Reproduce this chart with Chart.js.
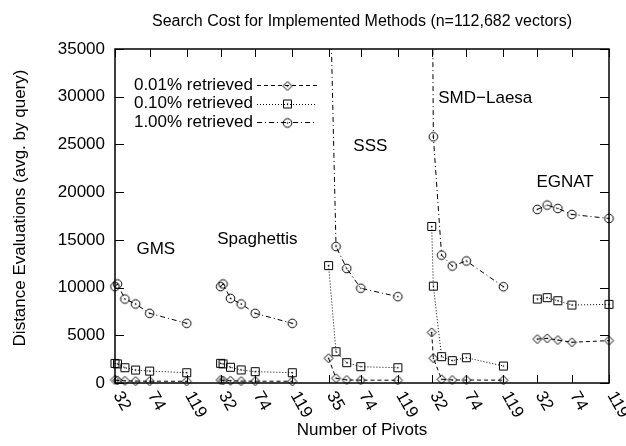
<!DOCTYPE html>
<html>
<head>
<meta charset="utf-8">
<script src="https://cdn.jsdelivr.net/npm/chart.js@4/dist/chart.umd.min.js"></script>
<style>
html,body{margin:0;padding:0;background:#fff;}
#wrap{width:626px;height:446px;}
</style>
</head>
<body>
<div id="wrap"><canvas id="c" width="626" height="446"></canvas></div>
<script>
// ---- data ----
const groups = ['GMS', 'Spaghettis', 'SSS', 'SMD\u2212Laesa', 'EGNAT'];
const seriesNames = ['0.01% retrieved', '0.10% retrieved', '1.00% retrieved'];
const pivots = [
  [32, 35, 44, 57, 74, 119],
  [32, 35, 44, 57, 74, 119],
  [35, 44, 57, 74, 119],
  [32, 34, 44, 57, 74, 119],
  [32, 44, 57, 74, 119]
];
const retrieved001 = [
  [320, 280, 230, 200, 190, 180],
  [320, 280, 230, 200, 190, 180],
  [2600, 500, 320, 300, 290],
  [5300, 2600, 390, 320, 310, 300],
  [4600, 4680, 4500, 4270, 4440]
];
const retrieved010 = [
  [2050, 2000, 1600, 1360, 1250, 1080],
  [2060, 2000, 1650, 1370, 1190, 1080],
  [12300, 3280, 2130, 1710, 1600],
  [16400, 10150, 2760, 2340, 2650, 1780],
  [8800, 8940, 8620, 8170, 8240]
];
const retrieved100 = [
  [10100, 10380, 8800, 8280, 7300, 6250],
  [10100, 10380, 8870, 8280, 7300, 6250],
  [48000, 14300, 12000, 9930, 9050],
  [55000, 25800, 13400, 12260, 12790, 10090],
  [18190, 18640, 18290, 17660, 17240]
];
const tickPivots = [
  [32, 74, 119],
  [32, 74, 119],
  [35, 74, 119],
  [32, 74, 119],
  [32, 74, 119]
];
const yMin = 0, yMax = 35000, yStep = 5000;
const groupSpan = 128;
// group caption anchors: [pivot within group, value]
const groupLabelAt = [[58, 14000], [28, 15100], [65, 24800], [40, 29800], [31, 21000]];

// ---- helpers ----
function buildSeries(values) {
  const pts = [];
  groups.forEach((g, gi) => {
    pivots[gi].forEach((p, i) => pts.push({x: gi * groupSpan + p, y: values[gi][i]}));
    if (gi < groups.length - 1) pts.push({x: gi * groupSpan + 124, y: null});
  });
  return pts;
}
function makeMarker(kind) {
  const c = document.createElement('canvas');
  c.width = 13; c.height = 13;
  const g = c.getContext('2d');
  g.strokeStyle = '#000'; g.fillStyle = '#000'; g.lineWidth = 1;
  const m = 6.5;
  g.beginPath();
  if (kind === 'diamond') {
    g.moveTo(m, m - 4.5); g.lineTo(m + 4.5, m); g.lineTo(m, m + 4.5); g.lineTo(m - 4.5, m); g.closePath();
  } else if (kind === 'square') {
    g.rect(m - 4, m - 4, 8, 8);
  } else {
    g.arc(m, m, 4.3, 0, Math.PI * 2);
  }
  g.stroke();
  g.fillRect(m - 0.7, m - 0.7, 1.4, 1.4);
  return c;
}
const markers = [makeMarker('diamond'), makeMarker('square'), makeMarker('circle')];
const dashes = [[4, 3], [1, 2], [5, 3, 1, 3]];
const FONT = '"Liberation Sans", Arial, Helvetica, sans-serif';

const xTickValues = [];
const xTickLabels = [];
tickPivots.forEach((arr, gi) => arr.forEach(p => { xTickValues.push(gi * groupSpan + p); xTickLabels.push(String(p)); }));

const gnuplotLook = {
  id: 'gnuplotLook',
  afterDraw(chart) {
    const {ctx, chartArea: a, scales} = chart;
    const xs = scales.x, ys = scales.y;
    ctx.save();
    ctx.strokeStyle = '#000';
    ctx.fillStyle = '#000';
    ctx.setLineDash([]);
    // inward mirrored ticks
    ctx.lineWidth = 1;
    ctx.beginPath();
    ys.ticks.forEach(t => {
      const py = Math.round(ys.getPixelForValue(t.value)) + 0.5;
      ctx.moveTo(a.left, py); ctx.lineTo(a.left + 9, py);
      ctx.moveTo(a.right, py); ctx.lineTo(a.right - 9, py);
    });
    xTickValues.forEach(v => {
      const px = Math.round(xs.getPixelForValue(v)) + 0.5;
      ctx.moveTo(px, a.bottom); ctx.lineTo(px, a.bottom - 8);
      ctx.moveTo(px, a.top); ctx.lineTo(px, a.top + 8);
    });
    ctx.stroke();
    // frame
    ctx.lineWidth = 1.5;
    ctx.strokeRect(a.left, a.top, a.right - a.left, a.bottom - a.top);

    // rotated x tick labels
    ctx.font = '17px ' + FONT;
    ctx.textAlign = 'left';
    ctx.textBaseline = 'middle';
    xTickValues.forEach((v, i) => {
      const px = xs.getPixelForValue(v);
      ctx.save();
      ctx.translate(px + 2, a.bottom + 10);
      ctx.rotate(Math.PI / 3);
      ctx.fillText(xTickLabels[i], 0, 0);
      ctx.restore();
    });

    // title
    ctx.textAlign = 'center';
    ctx.textBaseline = 'middle';
    ctx.font = '16px ' + FONT;
    ctx.fillText('Search Cost for Implemented Methods (n=112,682 vectors)', (a.left + a.right) / 2, 22);
    // axis titles
    ctx.font = '17px ' + FONT;
    ctx.fillText('Number of Pivots', (a.left + a.right) / 2, 430);
    ctx.save();
    ctx.translate(20, 208);
    ctx.rotate(-Math.PI / 2);
    ctx.fillText('Distance Evaluations (avg. by query)', 0, 0);
    ctx.restore();

    // group captions
    ctx.textAlign = 'left';
    groups.forEach((g, gi) => {
      const [p, v] = groupLabelAt[gi];
      ctx.fillText(g, xs.getPixelForValue(gi * groupSpan + p), ys.getPixelForValue(v));
    });

    // key
    chart.data.datasets.forEach((ds, i) => {
      const ry = a.top + 36 + i * 18.5;
      ctx.textAlign = 'right';
      ctx.fillText(ds.label, a.left + 138, ry);
      ctx.lineWidth = 1;
      ctx.setLineDash(ds.borderDash);
      ctx.beginPath();
      ctx.moveTo(a.left + 142, Math.round(ry) + 0.5);
      ctx.lineTo(a.left + 202, Math.round(ry) + 0.5);
      ctx.stroke();
      ctx.setLineDash([]);
      const mk = ds.pointStyle;
      ctx.drawImage(mk, Math.round(a.left + 172 - mk.width / 2), Math.round(ry - mk.height / 2) + 0.5);
    });
    ctx.restore();
  }
};

const datasets = [retrieved001, retrieved010, retrieved100].map((vals, i) => ({
  label: seriesNames[i],
  data: buildSeries(vals),
  borderColor: '#000',
  backgroundColor: 'rgba(0,0,0,0)',
  borderWidth: 1,
  borderDash: dashes[i],
  pointStyle: markers[i],
  pointRadius: 4,
  pointHoverRadius: 4,
  tension: 0,
  spanGaps: false,
  clip: {left: 12, right: 12, top: 0, bottom: 12}
}));

new Chart(document.getElementById('c'), {
  type: 'line',
  data: {datasets},
  options: {
    responsive: false,
    animation: false,
    devicePixelRatio: 1,
    events: [],
    layout: {padding: {top: 49, right: 17, left: 0, bottom: 0}},
    plugins: {legend: {display: false}, title: {display: false}, tooltip: {enabled: false}},
    scales: {
      x: {
        type: 'linear',
        min: 32,
        max: (groups.length - 1) * groupSpan + 119,
        grid: {display: false, drawTicks: false},
        border: {display: false},
        ticks: {display: false},
        afterFit(s) { s.height = 63; }
      },
      y: {
        min: yMin,
        max: yMax,
        ticks: {stepSize: yStep, padding: 10, color: '#000', font: {family: FONT, size: 17}, callback: v => String(v)},
        grid: {display: false, drawTicks: false},
        border: {display: false},
        afterFit(s) { s.width = 115; }
      }
    }
  },
  plugins: [gnuplotLook]
});
</script>
</body>
</html>
